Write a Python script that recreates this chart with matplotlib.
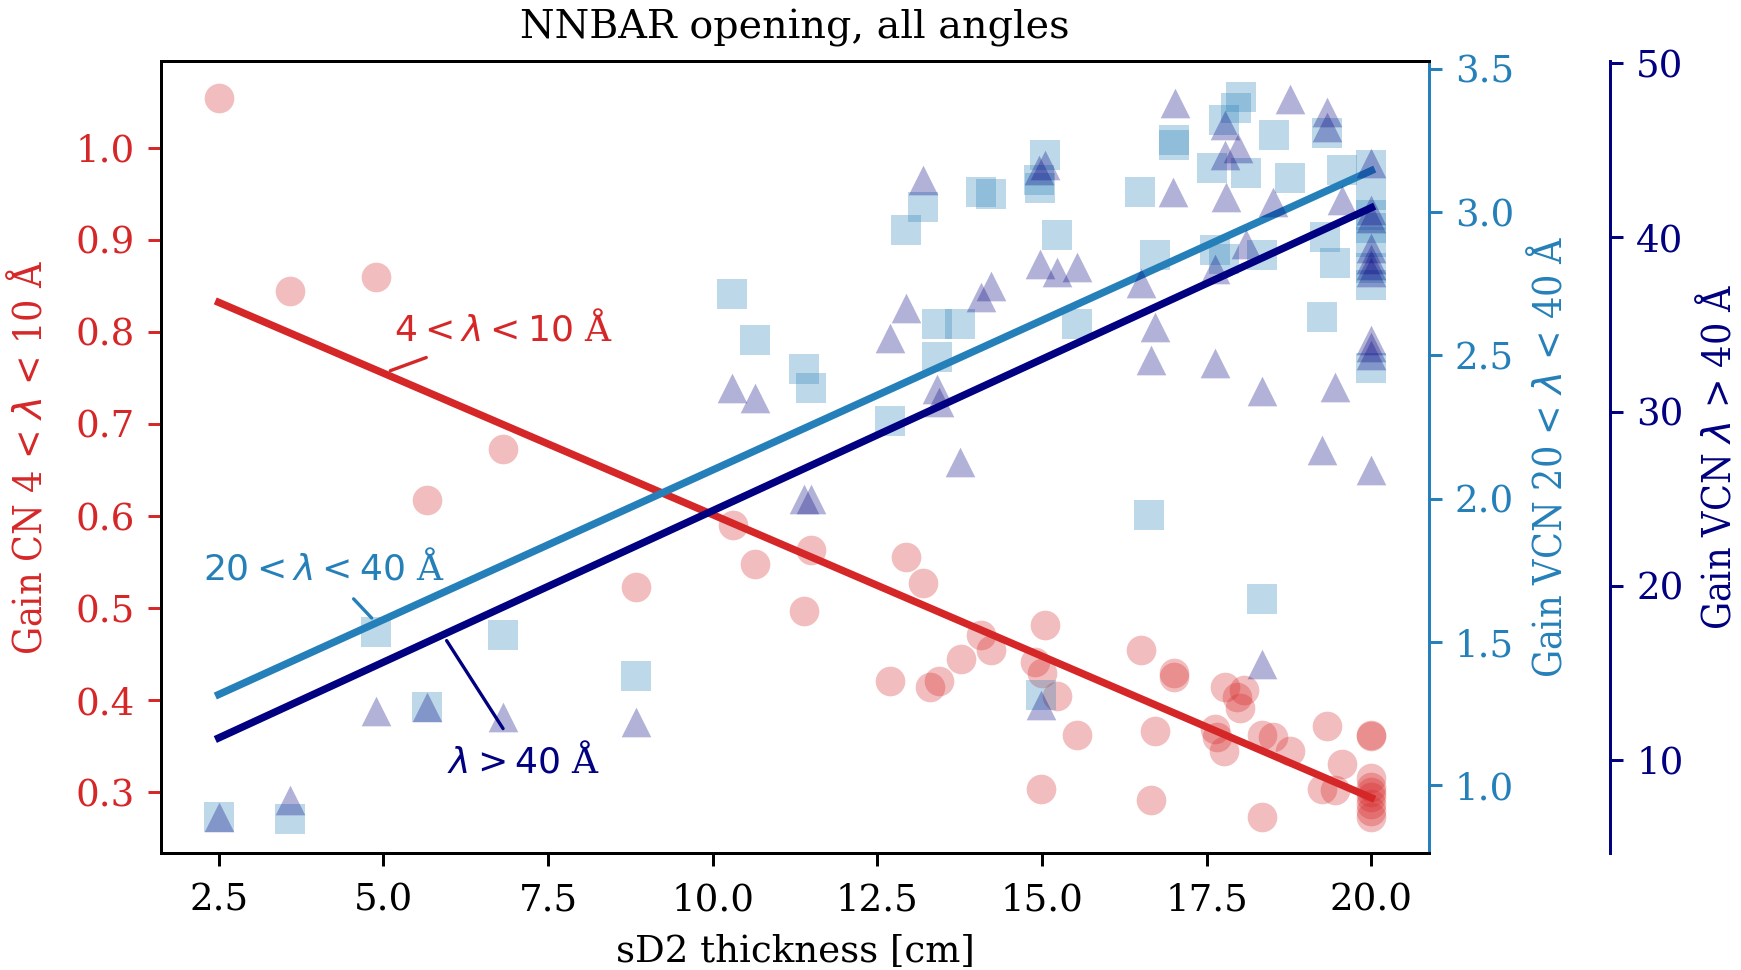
import matplotlib
matplotlib.use("Agg")
import matplotlib.pyplot as plt
from matplotlib import font_manager as fm

# sD2 thickness [cm] and gains
x_cn = [2.5, 3.58, 4.89, 5.67, 6.81, 8.83, 10.31, 10.64, 11.49, 11.39, 12.69, 12.94,
        13.19, 13.30, 13.43, 13.77, 14.08, 14.23, 14.90, 15.00, 15.04, 14.99, 15.23,
        15.53, 16.50, 16.65, 16.72, 17.01, 17.01, 17.63, 17.66, 17.76, 17.78, 17.96,
        18.01, 18.06, 18.34, 18.34, 18.51, 18.77, 19.25, 19.32, 19.45, 19.55,
        20, 20, 20, 20, 20, 20, 20, 20, 20]
gain_cn = [1.054, 0.844, 0.860, 0.617, 0.673, 0.523, 0.590, 0.548, 0.563, 0.497, 0.421, 0.556,
           0.527, 0.414, 0.421, 0.445, 0.471, 0.455, 0.441, 0.429, 0.482, 0.304, 0.405,
           0.362, 0.455, 0.292, 0.366, 0.429, 0.425, 0.369, 0.360, 0.345, 0.414, 0.403,
           0.392, 0.411, 0.362, 0.273, 0.360, 0.345, 0.304, 0.372, 0.302, 0.331,
           0.362, 0.361, 0.316, 0.306, 0.300, 0.295, 0.287, 0.280, 0.273]

x_vcn1 = [2.5, 3.59, 4.89, 5.67, 6.81, 8.83, 10.30, 10.64, 11.39, 11.49, 12.69, 12.94,
          13.19, 13.40, 13.40, 13.76, 14.08, 14.23, 14.98, 15.04, 14.95, 14.97, 15.23,
          15.53, 16.49, 16.63, 16.72, 17.01, 17.01, 17.58, 17.62, 17.76, 17.77, 17.95,
          18.02, 18.09, 18.34, 18.34, 18.52, 18.76, 19.25, 19.29, 19.32, 19.45, 19.56,
          20, 20, 20, 20, 20, 20, 20, 20]
gain_vcn1 = [0.890, 0.884, 1.535, 1.273, 1.524, 1.383, 2.713, 2.553, 2.451, 2.385, 2.271, 2.937,
             3.019, 2.495, 2.608, 2.608, 3.069, 3.062, 1.314, 3.199, 3.112, 3.083, 2.920,
             2.608, 3.071, 1.943, 2.852, 3.250, 3.236, 3.153, 2.867, 2.836, 3.321, 3.362,
             3.400, 3.135, 2.850, 1.652, 3.269, 3.120, 2.635, 2.914, 3.275, 2.821, 3.147,
             3.164, 3.060, 2.990, 2.943, 2.897, 2.804, 2.745, 2.455]

x_vcn2 = [2.5, 3.59, 4.89, 5.67, 6.81, 8.83, 10.30, 10.64, 11.39, 11.49, 12.69, 12.94,
          13.19, 13.40, 13.43, 13.76, 14.08, 14.23, 14.95, 15.04, 14.97, 14.98, 15.23,
          15.53, 16.50, 16.65, 16.72, 16.99, 17.02, 17.62, 17.63, 17.78, 17.78, 17.80,
          17.98, 18.09, 18.34, 18.34, 18.50, 18.76, 19.25, 19.32, 19.32, 19.45, 19.55,
          20, 20, 20, 20, 20, 20, 20, 20, 20, 20, 20]
gain_vcn2 = [6.71, 7.67, 12.80, 13.03, 12.46, 12.17, 31.38, 30.75, 25.0, 25.0, 34.2, 35.92,
             43.3, 31.3, 30.55, 27.1, 36.6, 37.2, 43.87, 44.16, 38.5, 13.13, 38.03,
             38.3, 37.36, 32.96, 34.87, 42.6, 47.7, 32.76, 38.2, 46.45, 44.73, 42.34,
             45.11, 39.65, 31.2, 15.52, 42.05, 47.98, 27.78, 47.2, 46.36, 31.42, 42.15,
             44.26, 41.57, 41.1, 39.37, 38.79, 38.4, 38.02, 34.1, 33.72, 33.24, 26.63]

# linear fits (end points)
fit_x = [2.5, 20.0]
fit_cn = [0.832, 0.294]
fit_vcn1 = [1.317, 3.145]
fit_vcn2 = [11.25, 41.71]

red = "#d62728"
blue = "#2580b9"
navy = "#000080"

plt.rcParams["font.family"] = "DejaVu Serif"

# condensed serif for the y labels, if the system has it
cond = [f for f in fm.findSystemFonts() if f.endswith("DejaVuSerifCondensed.ttf")]
if cond:
    ylab_font = fm.FontProperties(fname=cond[0], size=10.5)
else:
    ylab_font = fm.FontProperties(family="Liberation Serif", size=11.2)

fig = plt.figure(figsize=(6.5206, 3.633), dpi=267)
ax = fig.add_axes([0.0925, 0.1206, 0.7283, 0.8164])

ax.scatter(x_cn, gain_cn, s=64, color=red, alpha=0.3, linewidths=0)
ax.plot(fit_x, fit_cn, color=red, lw=2)
ax.set_ylim(0.234, 1.094)
ax.set_xlim(1.625, 20.875)
ax.set_xlabel("sD2 thickness [cm]", fontsize=10)
ax.set_ylabel("Gain CN 4 < $\\lambda$ < 10 Å", color=red, fontproperties=ylab_font, labelpad=7)
ax.tick_params(axis="y", colors=red, labelsize=10)
ax.tick_params(axis="x", labelsize=10, pad=4.5)
ax.spines["right"].set_visible(False)
ax.set_title("NNBAR opening, all angles", fontsize=10.7, pad=6)
ax.annotate("$4 < \\lambda < 10$ Å", xy=(5.0, 0.755), xytext=(6.83, 0.803),
            color=red, fontsize=9.75, ha="center", va="center",
            arrowprops=dict(arrowstyle="-", color=red, lw=0.9))

ax2 = ax.twinx()
ax2.scatter(x_vcn1, gain_vcn1, s=64, marker="s", color=blue, alpha=0.3, linewidths=0)
ax2.plot(fit_x, fit_vcn1, color=blue, lw=2)
ax2.set_ylim(0.764, 3.527)
ax2.set_ylabel("Gain VCN 20 < $\\lambda$ < 40 Å", color=blue, fontproperties=ylab_font, labelpad=4)
ax2.tick_params(axis="y", colors=blue, labelsize=10)
ax2.spines["right"].set_color(blue)
ax2.annotate("$20 < \\lambda < 40$ Å", xy=(4.9, 1.565), xytext=(4.10, 1.76),
             color=blue, fontsize=9.75, ha="center", va="center",
             arrowprops=dict(arrowstyle="-", color=blue, lw=0.9))

ax3 = ax.twinx()
ax3.spines["right"].set_position(("axes", 1.143))
for side in ["left", "top", "bottom"]:
    ax3.spines[side].set_visible(False)
ax3.scatter(x_vcn2, gain_vcn2, s=64, marker="^", color=navy, alpha=0.3, linewidths=0)
ax3.plot(fit_x, fit_vcn2, color=navy, lw=2)
ax3.set_ylim(4.64, 50.13)
ax3.set_ylabel("Gain VCN $\\lambda$ > 40 Å", color=navy, fontproperties=ylab_font, labelpad=4)
ax3.tick_params(axis="y", colors=navy, labelsize=10)
ax3.spines["right"].set_color(navy)
ax3.annotate("$\\lambda > 40$ Å", xy=(5.9, 17.2), xytext=(7.13, 9.94),
             color=navy, fontsize=9.75, ha="center", va="center",
             arrowprops=dict(arrowstyle="-", color=navy, lw=0.9))

fig.savefig("out.png", dpi=267)
